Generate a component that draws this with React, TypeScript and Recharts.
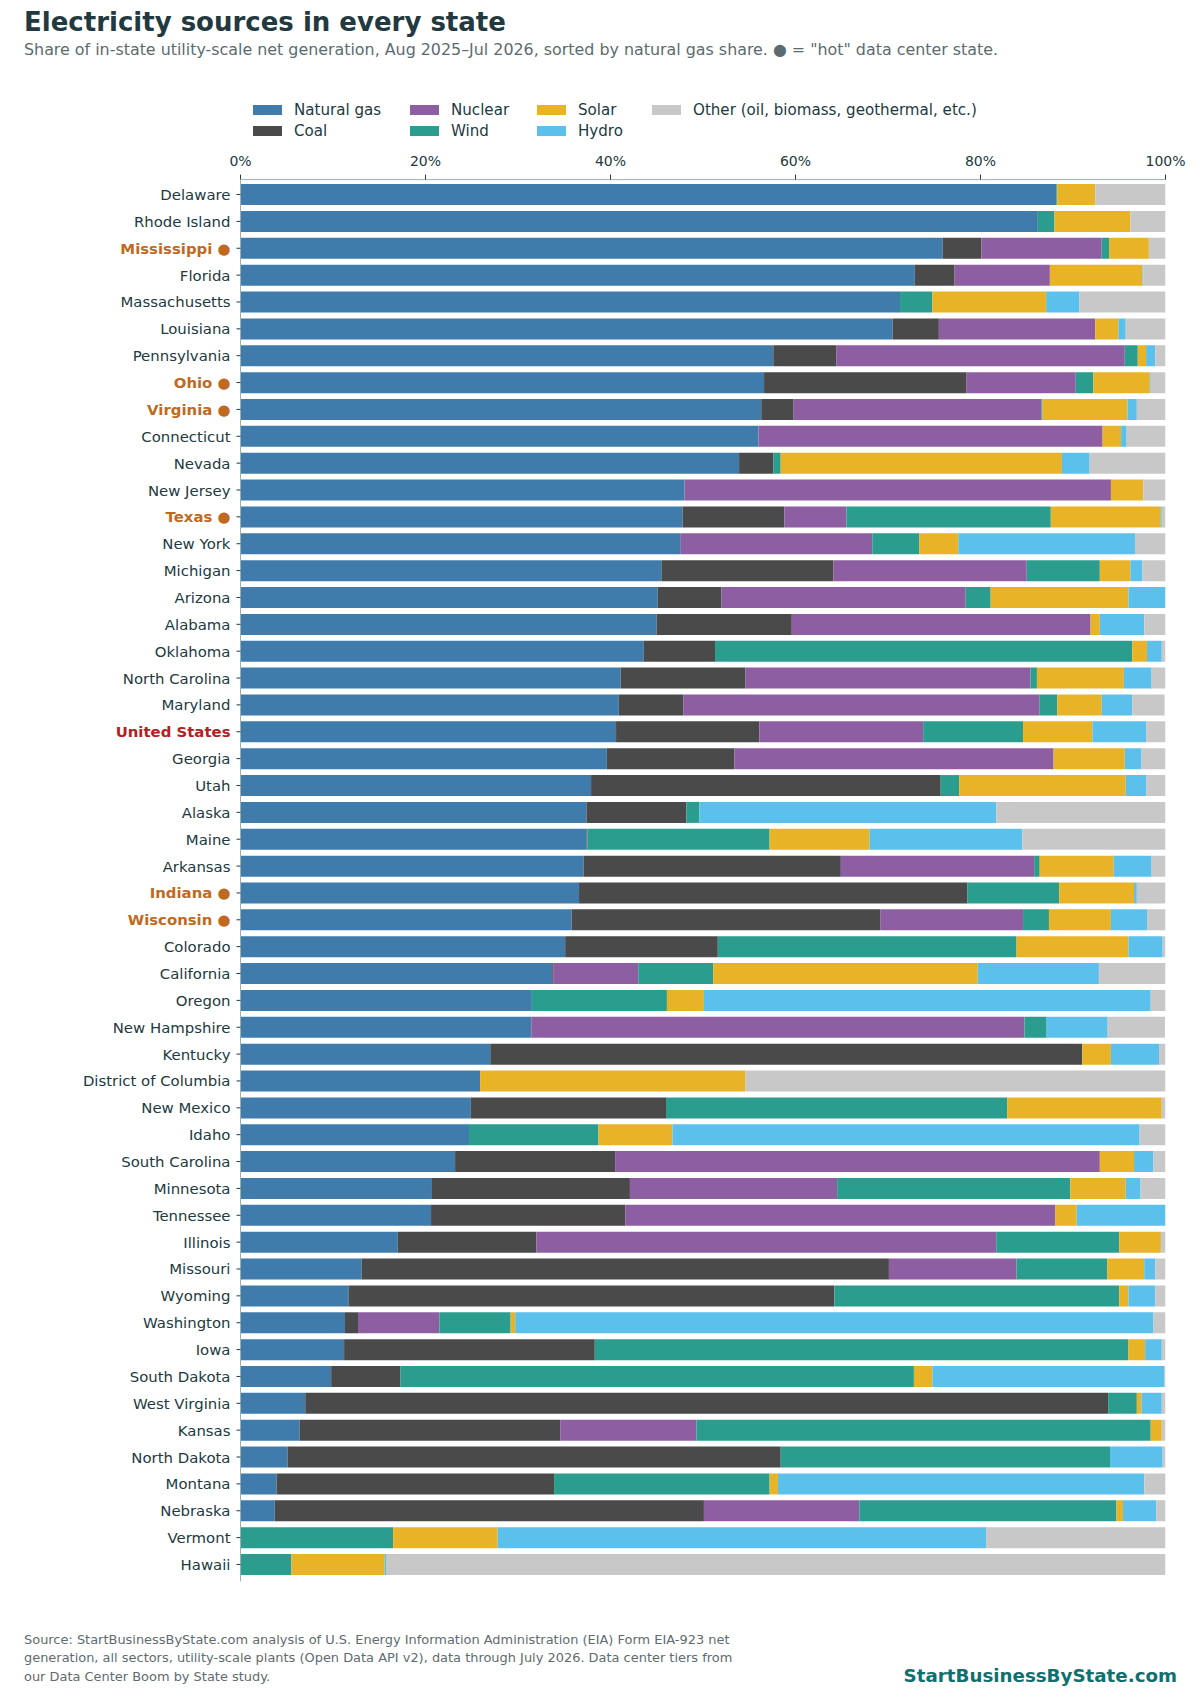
import React from "react";
import { Bar, BarChart, Legend, XAxis, YAxis } from "recharts";

const states = [
  "Delaware", "Rhode Island", "Mississippi", "Florida", "Massachusetts", "Louisiana", "Pennsylvania",
  "Ohio", "Virginia", "Connecticut", "Nevada", "New Jersey", "Texas", "New York", "Michigan", "Arizona",
  "Alabama", "Oklahoma", "North Carolina", "Maryland", "United States", "Georgia", "Utah", "Alaska",
  "Maine", "Arkansas", "Indiana", "Wisconsin", "Colorado", "California", "Oregon", "New Hampshire",
  "Kentucky", "District of Columbia", "New Mexico", "Idaho", "South Carolina", "Minnesota", "Tennessee",
  "Illinois", "Missouri", "Wyoming", "Washington", "Iowa", "South Dakota", "West Virginia", "Kansas",
  "North Dakota", "Montana", "Nebraska", "Vermont", "Hawaii",
];

const hotStates = ["Mississippi", "Ohio", "Virginia", "Texas", "Indiana", "Wisconsin"];

const gas = [
  88.2, 86.2, 75.9, 72.9, 71.3, 70.5, 57.6, 56.6, 56.3, 56.0, 53.9, 48.0, 47.8, 47.6, 45.5, 45.1, 45.0, 43.6,
  41.1, 40.9, 40.6, 39.6, 37.9, 37.4, 37.4, 37.1, 36.6, 35.8, 35.1, 33.7, 31.5, 31.4, 27.0, 25.9, 24.9, 24.7,
  23.2, 20.7, 20.6, 17.0, 13.1, 11.7, 11.3, 11.2, 9.8, 7.0, 6.4, 5.1, 3.9, 3.7, 0, 0,
];
const coal = [
  0, 0, 4.2, 4.3, 0, 5.0, 6.8, 21.9, 3.5, 0, 3.7, 0, 11.0, 0, 18.6, 6.9, 14.6, 7.7,
  13.5, 7.0, 15.5, 13.8, 37.8, 10.8, 0.1, 27.8, 42.0, 33.4, 16.5, 0.1, 0, 0.05, 64.0, 0, 21.1, 0,
  17.3, 21.4, 21.0, 15.0, 57.0, 52.5, 1.4, 27.1, 7.5, 86.8, 28.2, 53.3, 30.0, 46.4, 0, 0,
];
const nuclear = [
  0, 0, 13.0, 10.3, 0, 16.9, 31.2, 11.8, 26.8, 37.2, 0, 46.1, 6.7, 20.7, 20.9, 26.4, 32.3, 0,
  30.8, 38.5, 17.7, 34.5, 0, 0, 0, 20.9, 0, 15.4, 0, 9.2, 0, 53.3, 0, 0, 0, 0,
  52.4, 22.4, 46.5, 49.7, 13.8, 0, 8.8, 0, 0, 0, 14.7, 0, 0, 16.8, 0, 0,
];
const wind = [
  0.1, 1.8, 0.8, 0, 3.5, 0, 1.4, 1.9, 0.1, 0, 0.8, 0, 22.1, 5.1, 7.9, 2.7, 0, 45.1,
  0.7, 1.9, 10.8, 0, 2.0, 1.4, 19.7, 0.6, 9.9, 2.8, 32.3, 8.1, 14.6, 2.4, 0, 0, 36.9, 14.0,
  0, 25.2, 0, 13.3, 9.8, 30.8, 7.7, 57.7, 55.5, 3.1, 49.1, 35.6, 23.3, 27.8, 16.5, 5.5,
];
const solar = [
  4.1, 8.2, 4.3, 10.0, 12.3, 2.5, 0.9, 6.1, 9.2, 2.0, 30.4, 3.5, 11.9, 4.2, 3.3, 14.9, 1.0, 1.6,
  9.4, 4.8, 7.5, 7.7, 18.0, 0, 10.8, 8.0, 8.1, 6.7, 12.1, 28.6, 4.0, 0, 3.1, 28.7, 16.7, 8.0,
  3.7, 6.0, 2.3, 4.5, 4.0, 1.0, 0.5, 1.8, 2.0, 0.5, 1.2, 0, 0.9, 0.7, 11.3, 10.1,
];
const hydro = [
  0, 0, 0, 0.1, 3.6, 0.8, 1.0, 0.1, 1.0, 0.6, 3.0, 0, 0.1, 19.1, 1.3, 4.0, 4.8, 1.6,
  3.0, 3.3, 5.8, 1.8, 2.2, 32.1, 16.5, 4.1, 0.3, 3.9, 3.7, 13.1, 48.3, 6.6, 5.2, 0, 0, 50.5,
  2.1, 1.6, 9.6, 0, 1.2, 2.9, 69.0, 1.8, 25.1, 2.2, 0, 5.7, 39.6, 3.6, 52.8, 0.2,
];
const other = [
  7.6, 3.8, 1.8, 2.4, 9.3, 4.3, 1.1, 1.6, 3.1, 4.2, 8.2, 2.4, 0.4, 3.3, 2.5, 0, 2.3, 0.4,
  1.5, 3.5, 2.1, 2.6, 2.1, 18.3, 15.5, 1.5, 3.1, 2.0, 0.3, 7.2, 1.6, 6.2, 0.7, 45.4, 0.4, 2.8,
  1.3, 2.7, 0, 0.5, 1.1, 1.1, 1.3, 0.4, 0.1, 0.4, 0.4, 0.3, 2.3, 1.0, 19.4, 84.2,
];

const percentTicks = [0, 20, 40, 60, 80, 100];

const sources = [
  { key: "gas", name: "Natural gas", color: "#3f7cac" },
  { key: "coal", name: "Coal", color: "#4a4a4a" },
  { key: "nuclear", name: "Nuclear", color: "#8e5ea2" },
  { key: "wind", name: "Wind", color: "#2a9d8f" },
  { key: "solar", name: "Solar", color: "#e9b327" },
  { key: "hydro", name: "Hydro", color: "#5bc0eb" },
  { key: "other", name: "Other (oil, biomass, geothermal, etc.)", color: "#c8c8c8" },
];

const rows = states.map((state, i) => ({
  state,
  gas: gas[i],
  coal: coal[i],
  nuclear: nuclear[i],
  wind: wind[i],
  solar: solar[i],
  hydro: hydro[i],
  other: other[i],
}));

const font = "'DejaVu Sans', sans-serif";
const ink = "#22393f";

function StateTick({ x, y, payload }: any) {
  const name = payload.value;
  const hot = hotStates.includes(name);
  const us = name === "United States";
  return (
    <text
      x={x}
      y={y}
      dy={5.5}
      textAnchor="end"
      fontFamily={font}
      fontSize={14.9}
      fontWeight={hot || us ? 700 : 400}
      fill={hot ? "#bf6a1f" : us ? "#b22222" : ink}
    >
      {hot ? `${name} ●` : name}
    </text>
  );
}

const legendColumns = [253, 410, 537, 652];

function SourceLegend() {
  return (
    <div style={{ position: "relative", width: 900, height: 44, fontFamily: font, fontSize: 15.1, color: ink }}>
      {sources.map((s, i) => (
        <div
          key={s.key}
          style={{
            position: "absolute",
            left: legendColumns[Math.floor(i / 2)] - 253,
            top: (i % 2) * 21.5,
            whiteSpace: "nowrap",
            display: "flex",
            alignItems: "center",
            height: 20,
          }}
        >
          <span style={{ display: "inline-block", width: 29, height: 10, marginRight: 12, background: s.color }} />
          {s.name}
        </div>
      ))}
    </div>
  );
}

export default function App() {
  return (
    <div style={{ position: "absolute", left: 0, top: 0, width: 1200, height: 1700, background: "#fff", fontFamily: font }}>
      <div style={{ position: "absolute", left: 24, top: 6.5, fontSize: 26, fontWeight: 700, color: ink, whiteSpace: "nowrap" }}>
        Electricity sources in every state
      </div>
      <div style={{ position: "absolute", left: 24, top: 39.5, fontSize: 15.88, color: "#5b6b70", whiteSpace: "nowrap" }}>
        {'Share of in-state utility-scale net generation, Aug 2025–Jul 2026, sorted by natural gas share. ● = "hot" data center state.'}
      </div>
      <BarChart
        width={1200}
        height={1700}
        data={rows}
        layout="vertical"
        margin={{ top: 149.6, right: 34.5, bottom: 74.6, left: 0 }}
        barSize={21}
        style={{ position: "absolute", left: 0, top: 0 }}
      >
        <XAxis
          type="number"
          orientation="top"
          height={30}
          domain={[0, 100]}
          allowDataOverflow
          ticks={percentTicks}
          tickFormatter={(v: number) => `${v}%`}
          axisLine={{ stroke: "#9ab0b0", strokeWidth: 1 }}
          tickLine={{ stroke: ink }}
          tickSize={5}
          tickMargin={9}
          tick={{ fontFamily: font, fontSize: 14, fill: ink }}
        />
        <YAxis
          type="category"
          dataKey="state"
          width={240.5}
          interval={0}
          padding={{ top: 1.5, bottom: 3.5 }}
          axisLine={{ stroke: "#9ab0b0", strokeWidth: 1 }}
          tickLine={{ stroke: ink }}
          tickSize={4}
          tickMargin={6}
          tick={StateTick}
        />
        <Legend
          content={SourceLegend}
          wrapperStyle={{ position: "absolute", left: 253, top: 99.8, width: 900 }}
        />
        {sources.map((s) => (
          <Bar key={s.key} dataKey={s.key} name={s.name} stackId="share" fill={s.color} isAnimationActive={false} />
        ))}
      </BarChart>
      <div style={{ position: "absolute", left: 24, top: 1631, fontSize: 12.94, lineHeight: "18.4px", color: "#5f6b70", whiteSpace: "nowrap" }}>
        Source: StartBusinessByState.com analysis of U.S. Energy Information Administration (EIA) Form EIA-923 net
        <br />
        generation, all sectors, utility-scale plants (Open Data API v2), data through July 2026. Data center tiers from
        <br />
        our Data Center Boom by State study.
      </div>
      <div style={{ position: "absolute", right: 23, top: 1665, fontSize: 18.25, fontWeight: 700, color: "#0f7070", whiteSpace: "nowrap" }}>
        StartBusinessByState.com
      </div>
    </div>
  );
}
